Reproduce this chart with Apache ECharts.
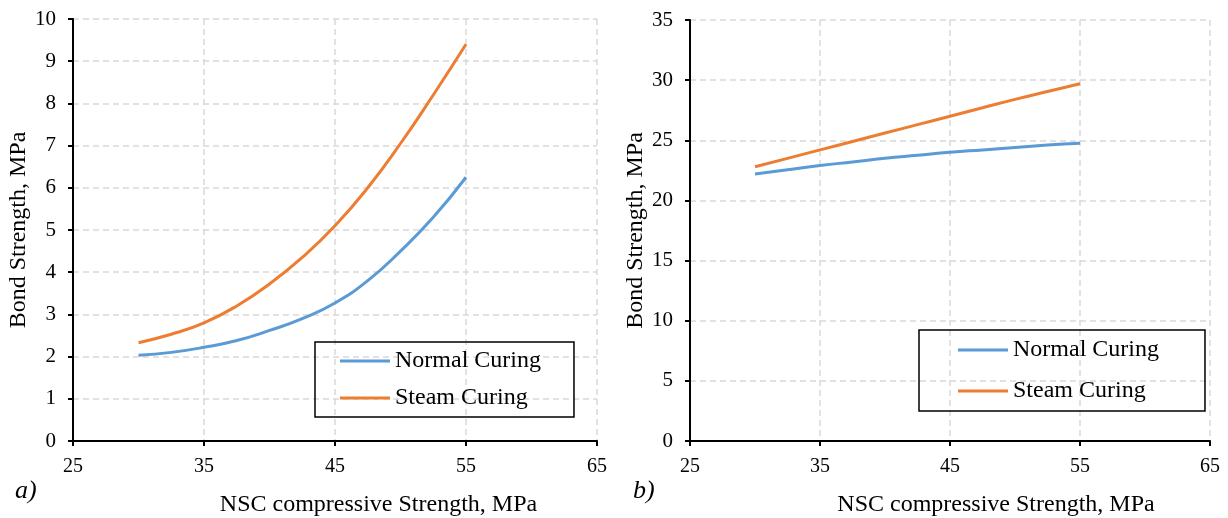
<!DOCTYPE html>
<html>
<head>
<meta charset="utf-8">
<script src="https://cdn.jsdelivr.net/npm/echarts@6/dist/echarts.min.js"></script>
<style>
  html, body { margin: 0; padding: 0; background: #fff; }
  #chart { width: 1228px; height: 518px; }
</style>
</head>
<body>
<div id="chart"></div>
<script>
// NSC compressive strength, MPa
const xValues = [30, 32.5, 35, 37.5, 40, 42.5, 45, 47.5, 50, 52.5, 55]

// panel a)
const normalA = [2.03, 2.1, 2.22, 2.38, 2.62, 2.9, 3.27, 3.8, 4.5, 5.3, 6.25]
const steamA = [2.33, 2.53, 2.8, 3.2, 3.72, 4.35, 5.1, 6.0, 7.05, 8.2, 9.4]

// panel b)
const normalB = [22.2, 22.55, 22.9, 23.2, 23.5, 23.75, 24.0, 24.2, 24.4, 24.6, 24.75]
const steamB = [22.8, 23.5, 24.2, 24.9, 25.6, 26.3, 27.0, 27.7, 28.4, 29.05, 29.7]

const seriesNames = ['Normal Curing', 'Steam Curing']
const colors = ['#5b9bd5', '#ed7d31']

const font = 'Liberation Serif'
const pair = (ys) => xValues.map((x, i) => [x, ys[i]])

function xAxis(gridIndex, shift) {
  return {
    gridIndex,
    type: 'value',
    min: 25,
    max: 65,
    interval: 10,
    name: 'NSC compressive Strength, MPa',
    nameLocation: 'middle',
    nameGap: 52,
    nameTextStyle: { color: '#000', fontFamily: font, fontSize: 24, padding: [0, 0, 0, shift] },
    axisLine: { lineStyle: { color: '#000', width: 2 } },
    axisTick: { show: true, length: 5, inside: false, lineStyle: { color: '#000', width: 2 } },
    axisLabel: { color: '#000', fontFamily: font, fontSize: 20, margin: 16 },
    splitLine: { show: true, lineStyle: { color: '#d9d9d9', type: [6, 4], width: 1.5 } }
  }
}

function yAxis(gridIndex, max, interval, nameGap) {
  return {
    gridIndex,
    type: 'value',
    min: 0,
    max,
    interval,
    name: 'Bond Strength, MPa',
    nameLocation: 'middle',
    nameGap,
    nameTextStyle: { color: '#000', fontFamily: font, fontSize: 24 },
    axisLine: { show: true, lineStyle: { color: '#000', width: 2 } },
    axisTick: { show: true, length: 5, inside: false, lineStyle: { color: '#000', width: 2 } },
    axisLabel: { color: '#000', fontFamily: font, fontSize: 21, margin: 17 },
    splitLine: { show: true, lineStyle: { color: '#d9d9d9', type: [6, 4], width: 1.5 } }
  }
}

function line(name, data, color, idx) {
  return {
    name,
    type: 'line',
    xAxisIndex: idx,
    yAxisIndex: idx,
    data,
    smooth: true,
    showSymbol: false,
    lineStyle: { color, width: 3 },
    itemStyle: { color }
  }
}

function legend(left, top, gap, padding) {
  return {
    left,
    top,
    orient: 'vertical',
    data: seriesNames,
    icon: 'rect',
    itemWidth: 50,
    itemHeight: 3,
    itemGap: gap,
    padding,
    borderColor: '#000',
    borderWidth: 1.5,
    textStyle: { color: '#000', fontFamily: font, fontSize: 24 }
  }
}

const chart = echarts.init(document.getElementById('chart'))
chart.setOption({
  animation: false,
  grid: [
    { left: 73, top: 19, width: 524, height: 422, outerBoundsMode: 'none' },
    { left: 690, top: 20, width: 520, height: 421, outerBoundsMode: 'none' }
  ],
  xAxis: [xAxis(0, 87), xAxis(1, 92)],
  yAxis: [yAxis(0, 10, 1, 38), yAxis(1, 35, 5, 37)],
  legend: [
    legend(315, 342, 13, [7, 33, 7, 25]),
    legend(919, 330, 17, [8, 46, 8, 39])
  ],
  graphic: [
    { type: 'text', left: 15, top: 478, style: { text: 'a)', font: 'italic 26px "Liberation Serif"', fill: '#000' } },
    { type: 'text', left: 633, top: 478, style: { text: 'b)', font: 'italic 26px "Liberation Serif"', fill: '#000' } }
  ],
  series: [
    line(seriesNames[0], pair(normalA), colors[0], 0),
    line(seriesNames[1], pair(steamA), colors[1], 0),
    line(seriesNames[0], pair(normalB), colors[0], 1),
    line(seriesNames[1], pair(steamB), colors[1], 1)
  ]
})
</script>
</body>
</html>
